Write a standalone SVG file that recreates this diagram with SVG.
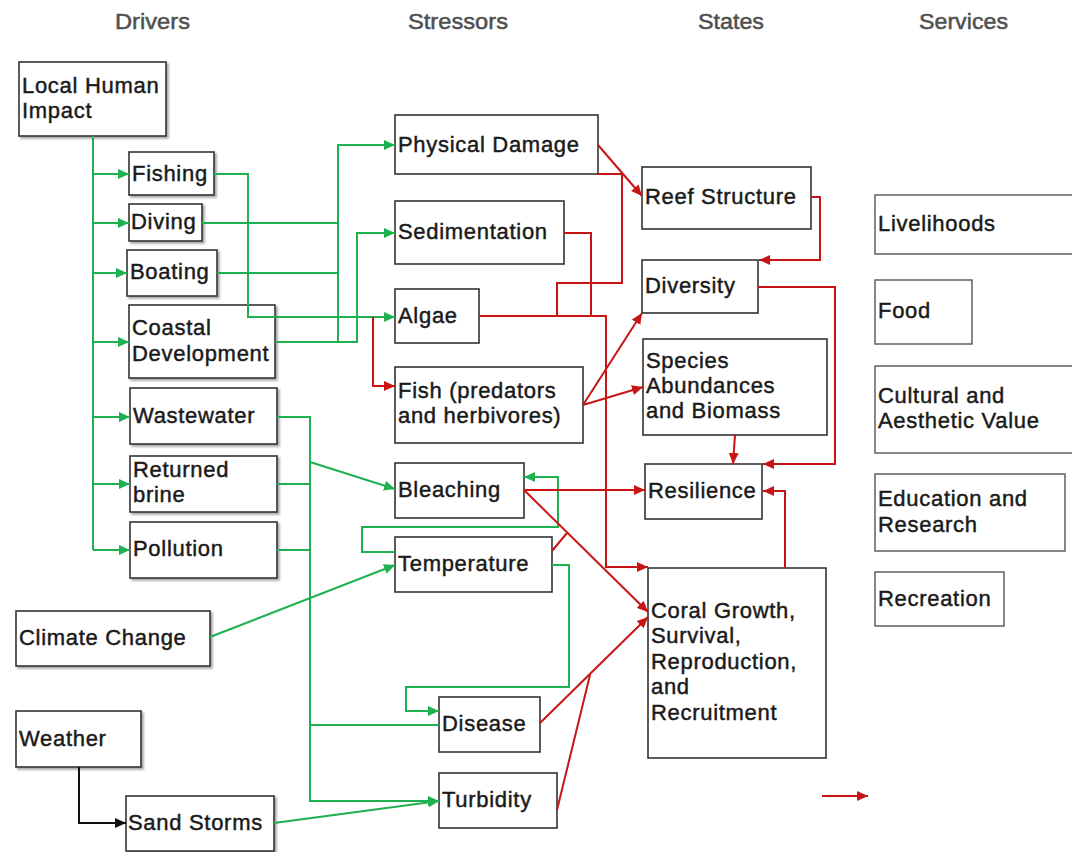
<svg xmlns="http://www.w3.org/2000/svg" width="1072" height="852" viewBox="0 0 1072 852">
<style>
  .box{fill:#fff;stroke:#333;stroke-width:1.6}
  .sbox{fill:#fff;stroke:#555;stroke-width:1.4}
  .sh{filter:url(#shadow)}
  .t{font-family:"Liberation Sans",Arial,sans-serif;font-size:22px;letter-spacing:0.7px;fill:#1a1a1a;stroke:#1a1a1a;stroke-width:0.45px}
  .h{font-family:"Liberation Sans",Arial,sans-serif;font-size:22px;fill:#505050;stroke:#505050;stroke-width:0.5px}
  .g{fill:none;stroke:#1fb04f;stroke-width:2}
  .r{fill:none;stroke:#c81414;stroke-width:2}
  .k{fill:none;stroke:#111;stroke-width:2}
</style>
<defs>
  <filter id="shadow" x="-10%" y="-10%" width="130%" height="140%">
    <feDropShadow dx="2" dy="2" stdDeviation="1.2" flood-color="#000" flood-opacity="0.35"/>
  </filter>
  <marker id="ag" markerUnits="userSpaceOnUse" markerWidth="12" markerHeight="10" refX="11" refY="5" orient="auto"><path d="M0,0 L11,5 L0,10 z" fill="#1fb04f"/></marker>
  <marker id="ar" markerUnits="userSpaceOnUse" markerWidth="12" markerHeight="10" refX="11" refY="5" orient="auto"><path d="M0,0 L11,5 L0,10 z" fill="#c81414"/></marker>
  <marker id="ak" markerUnits="userSpaceOnUse" markerWidth="12" markerHeight="10" refX="11" refY="5" orient="auto"><path d="M0,0 L11,5 L0,10 z" fill="#111"/></marker>
</defs>
<rect width="1072" height="852" fill="#fff"/>

<g id="headers">
  <text class="h" x="115" y="29" textLength="75" lengthAdjust="spacingAndGlyphs">Drivers</text>
  <text class="h" x="408" y="29" textLength="100" lengthAdjust="spacingAndGlyphs">Stressors</text>
  <text class="h" x="698" y="29" textLength="66" lengthAdjust="spacingAndGlyphs">States</text>
  <text class="h" x="919" y="29" textLength="89" lengthAdjust="spacingAndGlyphs">Services</text>
</g>

<g id="local-human-impact"><rect class="box sh" x="19" y="62" width="147" height="74"/><text class="t" x="22" y="93">Local Human</text><text class="t" x="22" y="118">Impact</text></g>
<g id="fishing"><rect class="box sh" x="129" y="152" width="85" height="43"/><text class="t" x="132" y="181">Fishing</text></g>
<g id="diving"><rect class="box sh" x="129" y="204" width="73" height="37"/><text class="t" x="131" y="229">Diving</text></g>
<g id="boating"><rect class="box sh" x="127" y="250" width="90" height="46"/><text class="t" x="130" y="279">Boating</text></g>
<g id="coastal-development"><rect class="box sh" x="129" y="305" width="146" height="73"/><text class="t" x="132" y="335">Coastal</text><text class="t" x="132" y="361">Development</text></g>
<g id="wastewater"><rect class="box sh" x="130" y="388" width="147" height="56"/><text class="t" x="133" y="423">Wastewater</text></g>
<g id="returned-brine"><rect class="box sh" x="130" y="456" width="147" height="56"/><text class="t" x="133" y="477">Returned</text><text class="t" x="133" y="502">brine</text></g>
<g id="pollution"><rect class="box sh" x="130" y="522" width="147" height="56"/><text class="t" x="133" y="556">Pollution</text></g>
<g id="climate-change"><rect class="box sh" x="16" y="611" width="194" height="55"/><text class="t" x="19" y="645">Climate Change</text></g>
<g id="weather"><rect class="box sh" x="16" y="711" width="125" height="56"/><text class="t" x="19" y="746">Weather</text></g>
<g id="sand-storms"><rect class="box sh" x="126" y="796" width="148" height="55"/><text class="t" x="128" y="830">Sand Storms</text></g>

<g id="physical-damage"><rect class="box" x="395" y="115" width="203" height="59"/><text class="t" x="398" y="152">Physical Damage</text></g>
<g id="sedimentation"><rect class="box" x="395" y="201" width="169" height="63"/><text class="t" x="398" y="239">Sedimentation</text></g>
<g id="algae"><rect class="box" x="395" y="289" width="84" height="54"/><text class="t" x="398" y="323">Algae</text></g>
<g id="fish"><rect class="box" x="395" y="367" width="188" height="76"/><text class="t" x="398" y="398">Fish (predators</text><text class="t" x="398" y="423">and herbivores)</text></g>
<g id="bleaching"><rect class="box" x="395" y="463" width="129" height="55"/><text class="t" x="398" y="497">Bleaching</text></g>
<g id="temperature"><rect class="box" x="395" y="537" width="157" height="55"/><text class="t" x="398" y="571">Temperature</text></g>
<g id="disease"><rect class="box" x="439" y="697" width="101" height="55"/><text class="t" x="442" y="731">Disease</text></g>
<g id="turbidity"><rect class="box" x="439" y="773" width="118" height="55"/><text class="t" x="442" y="807">Turbidity</text></g>

<g id="reef-structure"><rect class="box" x="642" y="167" width="169" height="62"/><text class="t" x="645" y="204">Reef Structure</text></g>
<g id="diversity"><rect class="box" x="642" y="260" width="116" height="53"/><text class="t" x="645" y="293">Diversity</text></g>
<g id="species-abundances"><rect class="box" x="643" y="339" width="184" height="96"/><text class="t" x="646" y="368">Species</text><text class="t" x="646" y="393">Abundances</text><text class="t" x="646" y="418">and Biomass</text></g>
<g id="resilience"><rect class="box" x="645" y="464" width="117" height="55"/><text class="t" x="648" y="498">Resilience</text></g>
<g id="coral-growth"><rect class="box" x="648" y="568" width="178" height="190"/><text class="t" x="651" y="618">Coral Growth,</text><text class="t" x="651" y="643">Survival,</text><text class="t" x="651" y="669">Reproduction,</text><text class="t" x="651" y="694">and</text><text class="t" x="651" y="720">Recruitment</text></g>

<g id="livelihoods"><rect class="sbox" x="875" y="195" width="200" height="59"/><text class="t" x="878" y="231">Livelihoods</text></g>
<g id="food"><rect class="sbox" x="875" y="280" width="97" height="64"/><text class="t" x="878" y="318">Food</text></g>
<g id="cultural-aesthetic"><rect class="sbox" x="875" y="366" width="200" height="87"/><text class="t" x="878" y="403">Cultural and</text><text class="t" x="878" y="428">Aesthetic Value</text></g>
<g id="education-research"><rect class="sbox" x="875" y="474" width="190" height="77"/><text class="t" x="878" y="506">Education and</text><text class="t" x="878" y="532">Research</text></g>
<g id="recreation"><rect class="sbox" x="875" y="572" width="129" height="54"/><text class="t" x="878" y="606">Recreation</text></g>

<g id="connectors">
  <!-- green -->
  <path class="g" d="M93,136 V550"/>
  <path class="g" d="M93,174 H129" marker-end="url(#ag)"/>
  <path class="g" d="M93,223 H129" marker-end="url(#ag)"/>
  <path class="g" d="M93,273 H127" marker-end="url(#ag)"/>
  <path class="g" d="M93,342 H129" marker-end="url(#ag)"/>
  <path class="g" d="M93,417 H130" marker-end="url(#ag)"/>
  <path class="g" d="M93,484 H130" marker-end="url(#ag)"/>
  <path class="g" d="M93,550 H130" marker-end="url(#ag)"/>
  <path class="g" d="M214,174 H248 V317 H395" marker-end="url(#ag)"/>
  <path class="g" d="M202,223 H338"/>
  <path class="g" d="M217,273 H338"/>
  <path class="g" d="M338,342 V145 H395" marker-end="url(#ag)"/>
  <path class="g" d="M275,342 H357 V233 H395" marker-end="url(#ag)"/>
  <path class="g" d="M277,417 H310 V801 H439" marker-end="url(#ag)"/>
  <path class="g" d="M277,484 H310"/>
  <path class="g" d="M277,550 H310"/>
  <path class="g" d="M310,462 L395,489" marker-end="url(#ag)"/>
  <path class="g" d="M310,725 H439"/>
  <path class="g" d="M395,552 H362 V527 H558 V477 H524" marker-end="url(#ag)"/>
  <path class="g" d="M552,565 H569 V687 H406 V711 H439" marker-end="url(#ag)"/>
  <path class="g" d="M210,637 L395,565" marker-end="url(#ag)"/>
  <path class="g" d="M274,823 L439,801" marker-end="url(#ag)"/>
  <!-- red -->
  <path class="r" d="M373,317 V386 H395" marker-end="url(#ar)"/>
  <path class="r" d="M598,145 L642,196" marker-end="url(#ar)"/>
  <path class="r" d="M598,174 H622 V283 H557 V316"/>
  <path class="r" d="M564,233 H591 V316"/>
  <path class="r" d="M479,316 H606 V567 H648" marker-end="url(#ar)"/>
  <path class="r" d="M583,405 L642,313" marker-end="url(#ar)"/>
  <path class="r" d="M583,405 L643,387" marker-end="url(#ar)"/>
  <path class="r" d="M811,197 H820 V260 H759" marker-end="url(#ar)"/>
  <path class="r" d="M758,287 H835 V464 H763" marker-end="url(#ar)"/>
  <path class="r" d="M735,435 L733,464" marker-end="url(#ar)"/>
  <path class="r" d="M785,568 V491 H763" marker-end="url(#ar)"/>
  <path class="r" d="M524,490 H645" marker-end="url(#ar)"/>
  <path class="r" d="M524,490 L648,612" marker-end="url(#ar)"/>
  <path class="r" d="M552,551 L567,533"/>
  <path class="r" d="M540,723 L648,617" marker-end="url(#ar)"/>
  <path class="r" d="M557,810 L590,675"/>
  <!-- black -->
  <path class="k" d="M79,767 V823 H126" marker-end="url(#ak)"/>
  <!-- legend -->
  <path class="r" d="M822,796 H868" marker-end="url(#ar)"/>
</g>
</svg>
